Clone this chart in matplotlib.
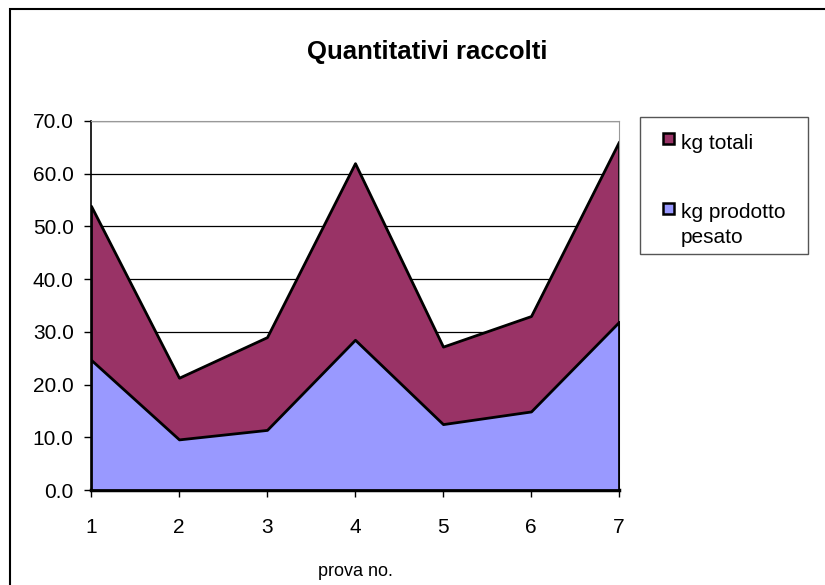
import matplotlib
matplotlib.use("Agg")
import matplotlib.pyplot as plt
from matplotlib.patches import Rectangle

plt.rcParams["font.family"] = ["Liberation Sans", "DejaVu Sans"]

prove = [1, 2, 3, 4, 5, 6, 7]
kg_totali = [53.9, 21.3, 29.0, 62.0, 27.2, 33.0, 66.1]
kg_prodotto = [24.7, 9.6, 11.4, 28.5, 12.5, 14.9, 31.9]
y_ticks = [0, 10, 20, 30, 40, 50, 60, 70]
serie = ["kg totali", "kg prodotto pesato"]

COL_TOT = "#993366"
COL_PROD = "#9999FF"

W, H = 825, 585


def fx(x):
    return x / W


def fy(y):
    # pixel dall'alto -> coordinata figura
    return 1 - y / H


fig = plt.figure(figsize=(W / 100, H / 100), dpi=100)

# cornice del grafico (tagliata a destra e in basso come nell'originale)
fig.patches.append(Rectangle((fx(10), fy(600)), fx(840) - fx(10), fy(9) - fy(600),
                             transform=fig.transFigure, facecolor="none",
                             edgecolor="black", linewidth=1.5))

ax = fig.add_axes([fx(91), fy(490), fx(619) - fx(91), fy(121) - fy(490)])

# aree sovrapposte (totali dietro, prodotto davanti)
ax.fill_between(prove, 0, kg_totali, facecolor=COL_TOT, edgecolor="black", linewidth=2, zorder=2)
ax.fill_between(prove, 0, kg_prodotto, facecolor=COL_PROD, edgecolor="black", linewidth=2, zorder=3)

ax.set_xlim(1, 7)
ax.set_ylim(0, 70)
ax.set_xticks(prove)
ax.set_yticks(y_ticks)
ax.set_yticklabels([f"{v:.1f}" for v in y_ticks])
ax.yaxis.grid(True, color="black", linewidth=0.9, zorder=1)
ax.set_axisbelow(True)
ax.tick_params(labelsize=15, length=5, width=1, direction="out")
ax.tick_params(axis="x", pad=15)
ax.tick_params(axis="y", pad=7.5)

ax.spines["top"].set_color("#999999")
ax.spines["right"].set_color("#999999")
ax.spines["left"].set_color("black")
ax.spines["bottom"].set_color("black")
ax.spines["bottom"].set_linewidth(2.5)
ax.spines["left"].set_linewidth(1.2)

fig.text(fx(427), fy(52), "Quantitativi raccolti", ha="center", va="center",
         fontsize=18.5, fontweight="bold")
fig.text(fx(355), fy(572), "prova no.", ha="center", va="center", fontsize=13)

# legenda in stile Excel
fig.patches.append(Rectangle((fx(640), fy(254)), fx(808) - fx(640), fy(117) - fy(254),
                             transform=fig.transFigure, facecolor="white",
                             edgecolor="#555555", linewidth=1))
for col, top in [(COL_TOT, 133), (COL_PROD, 203)]:
    fig.patches.append(Rectangle((fx(663), fy(top + 11)), fx(11), 11 / H,
                                 transform=fig.transFigure, facecolor=col,
                                 edgecolor="black", linewidth=1.8))
fig.text(fx(681), fy(149), serie[0], ha="left", va="baseline", fontsize=15)
fig.text(fx(681), fy(218), "kg prodotto", ha="left", va="baseline", fontsize=15)
fig.text(fx(681), fy(243), "pesato", ha="left", va="baseline", fontsize=15)

fig.savefig("out.png", dpi=100)
